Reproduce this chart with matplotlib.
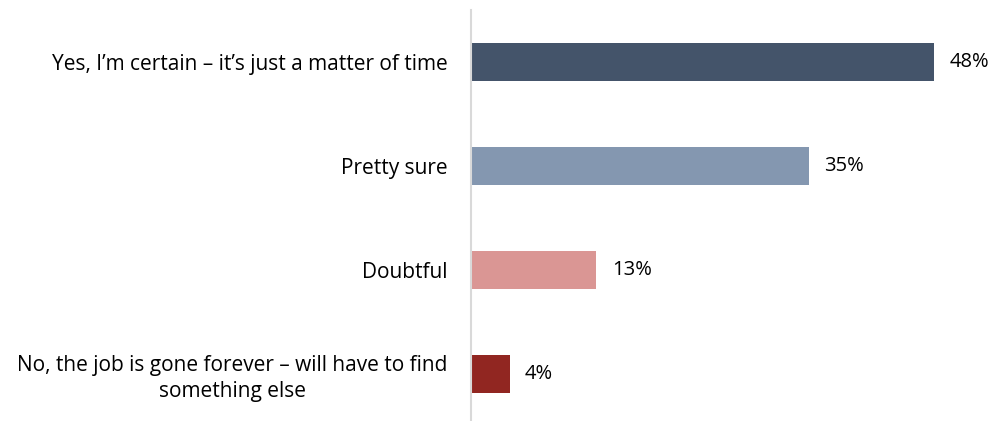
import matplotlib
matplotlib.use("Agg")
import matplotlib.pyplot as plt

categories = [
    "Yes, I\u2019m certain \u2013 it\u2019s just a matter of time",
    "Pretty sure",
    "Doubtful",
    "No, the job is gone forever \u2013 will have to find\nsomething else",
]
values = [48, 35, 13, 4]
colors = ["#44546A", "#8497B0", "#DA9694", "#912621"]

plt.rcParams["font.family"] = ["Open Sans", "DejaVu Sans"]

fig = plt.figure(figsize=(9.95, 4.21), dpi=100)
ax = fig.add_axes([471 / 995, -5 / 421, 1 - 471 / 995, 416 / 421])

ypos = list(range(len(categories)))
ax.barh(ypos, values, height=0.36, color=colors, zorder=2)
ax.set_ylim(len(categories) - 0.5, -0.5)
ax.set_xlim(0, 54.3)

for y, v in zip(ypos, values):
    ax.annotate(f"{v}%", xy=(v, y), xytext=(11, 0), textcoords="offset points",
                ha="left", va="center", fontsize=14.5, color="#000000")

ax.set_yticks(ypos)
ax.set_yticklabels(categories, fontsize=15, multialignment="center",
                   linespacing=1.25)
ax.tick_params(axis="y", length=0, pad=17)
ax.set_xticks([])

for side in ("top", "right", "bottom"):
    ax.spines[side].set_visible(False)
ax.spines["left"].set_color("#D9D9D9")
ax.spines["left"].set_linewidth(1.5)

fig.savefig("out.png", dpi=100)
